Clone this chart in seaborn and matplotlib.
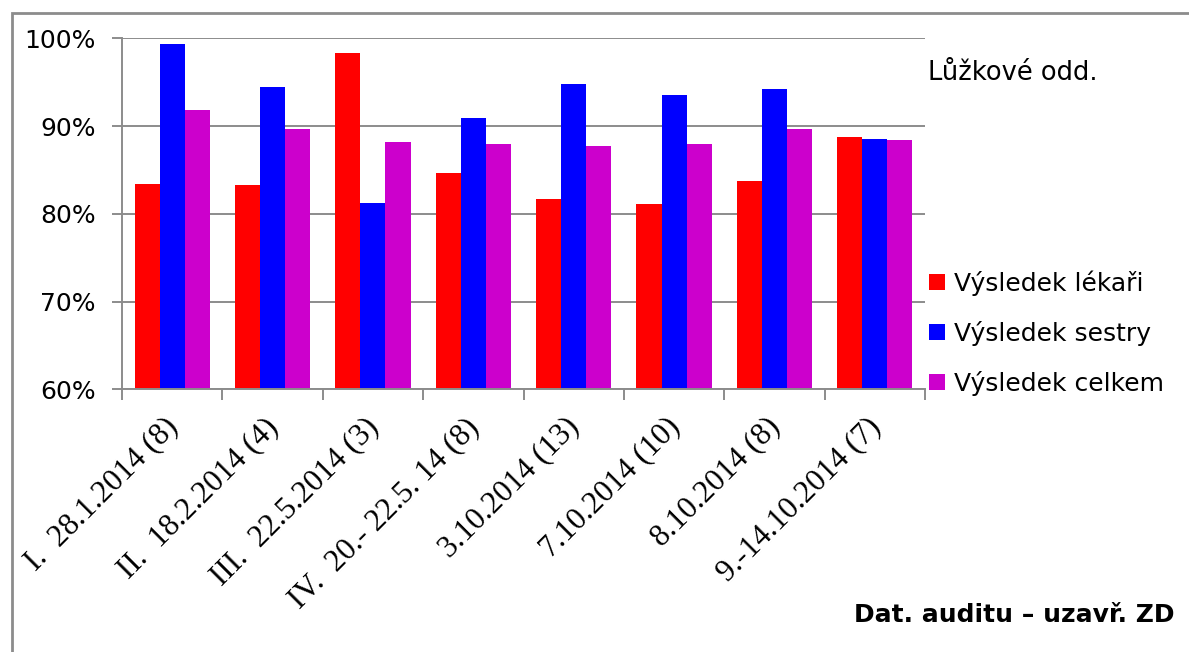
import matplotlib
matplotlib.use("Agg")
import matplotlib.pyplot as plt
import matplotlib.transforms as mtransforms
import seaborn as sns
import pandas as pd
from matplotlib.lines import Line2D
from matplotlib.patches import Rectangle
from matplotlib.ticker import FixedLocator, PercentFormatter

categories = ["I.  28.1.2014 (8)", "II.  18.2.2014 (4)", "III.  22.5.2014 (3)",
              "IV.  20.- 22.5. 14 (8)", "3.10.2014 (13)", "7.10.2014 (10)",
              "8.10.2014 (8)", "9.-14.10.2014 (7)"]
series_names = ["Výsledek lékaři", "Výsledek sestry", "Výsledek celkem"]
lekari = [83.4, 83.3, 98.3, 84.7, 81.7, 81.1, 83.7, 88.7]
sestry = [99.3, 94.4, 81.2, 90.9, 94.8, 93.5, 94.2, 88.5]
celkem = [91.8, 89.7, 88.2, 87.9, 87.7, 87.9, 89.7, 88.4]
colors = ["#FF0000", "#0000FF", "#CC00CC"]
y_ticks = [60, 70, 80, 90, 100]

df = pd.DataFrame({
    "cat": categories * 3,
    "series": sum([[s] * len(categories) for s in series_names], []),
    "val": lekari + sestry + celkem,
})

sns.set_theme(style="white")
plt.rcParams['font.family'] = ['DejaVu Sans']
plt.rcParams['text.color'] = 'black'
plt.rcParams['xtick.color'] = 'black'
plt.rcParams['ytick.color'] = 'black'

W, H = 1189, 652
fig = plt.figure(figsize=(W / 100, H / 100), dpi=100)
ax = fig.add_axes([122 / W, 1 - 389.3 / H, (925 - 122) / W, (389.3 - 38.3) / H])

sns.barplot(data=df, x="cat", y="val", hue="series", palette=colors,
            width=0.75, saturation=1, linewidth=0, ax=ax, legend=False)

grid_c = "#8c8c8c"
ax.set_ylim(60, 100)
ax.set_xlim(-0.5, len(categories) - 0.5)
ax.yaxis.set_major_locator(FixedLocator(y_ticks))
ax.yaxis.set_major_formatter(PercentFormatter(decimals=0))
ax.grid(axis="y", color=grid_c, linewidth=1.4)
ax.set_axisbelow(True)
for s in ["top", "right"]:
    ax.spines[s].set_visible(False)
for s in ["left", "bottom"]:
    ax.spines[s].set_color(grid_c)
    ax.spines[s].set_linewidth(1.4)
ax.tick_params(axis="y", left=True, length=7, width=1.4, color=grid_c,
               labelsize=18, pad=12, labelcolor="black")
ax.set_xticks(range(len(categories)))
ax.set_xticks([i - 0.5 for i in range(len(categories) + 1)], minor=True)
ax.tick_params(axis="x", which="major", length=0, pad=8, labelcolor="black")
ax.tick_params(axis="x", which="minor", bottom=True, length=8, width=1.4, color=grid_c)
ax.set_xticklabels(categories, rotation=45, ha="right", va="top",
                   rotation_mode="anchor", fontsize=22.5,
                   fontfamily="Liberation Serif")
offset = mtransforms.ScaledTranslation(-9 / 100, -12 / 100, fig.dpi_scale_trans)
for lbl in ax.get_xticklabels():
    lbl.set_transform(lbl.get_transform() + offset)
ax.set_xlabel("")
ax.set_ylabel("")

fig.text(928 / W, 1 - 73 / H, "Lůžkové odd.", fontsize=18.5, va="center", ha="left")
fig.text(1175 / W, 1 - 615 / H, "Dat. auditu – uzavř. ZD", fontsize=18,
         fontweight="bold", va="center", ha="right")

handles = [Line2D([], [], linestyle="none", marker="s", markersize=12,
                  markerfacecolor=c, markeredgewidth=0) for c in colors]
fig.legend(handles, series_names, loc="center left",
           bbox_to_anchor=(927 / W, 1 - 333 / H), frameon=False,
           fontsize=18, handlelength=0.8, handletextpad=0.3, labelspacing=1.0,
           borderaxespad=0, borderpad=0)

fig.patches.append(Rectangle((12 / W, -0.1), 1.2, 1 - 13 / H + 0.1,
                             transform=fig.transFigure, fill=False,
                             edgecolor="#8c8c8c", linewidth=2))

fig.savefig("out.png", dpi=100)
